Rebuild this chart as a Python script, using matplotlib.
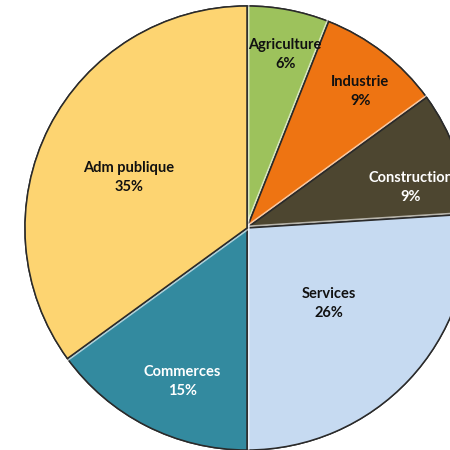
import numpy as np
import matplotlib.pyplot as plt
import matplotlib.patheffects as pe

secteurs = ['Agriculture', 'Industrie', 'Construction', 'Services', 'Commerces', 'Adm publique']
parts = [6, 9, 9, 26, 15, 35]
couleurs = ['#9DC25C', '#EE7412', '#4D4630', '#C6DAF1', '#338A9F', '#FDD471']
couleurs_texte = ['#111111', '#111111', 'white', '#111111', 'white', '#111111']
# label placement: fraction of the radius and angle shift from the slice middle
dist_label = [0.80, 0.80, 0.76, 0.50, 0.75, 0.58]
decal_angle = [-1.6, -1.9, -5.8, 0.4, 4.1, 3.8]
ecart = [0, 0, 0, 0.025, 0, 0]

fig = plt.figure(figsize=(4.5, 4.5), dpi=100)
ax = fig.add_axes([0, 0, 1, 1])

centre = (247, 222)
rayon = 222

wedges, _ = ax.pie(parts, colors=couleurs, startangle=90, counterclock=False,
                   radius=rayon, center=centre, explode=ecart, frame=True,
                   wedgeprops=dict(edgecolor='#2a2a2a', linewidth=1.1))
ax.set_xlim(0, 450)
ax.set_ylim(0, 450)
ax.set_aspect('equal')
ax.axis('off')

# light bevel along the edges of each slice
for w in wedges:
    w.set_path_effects([pe.Stroke(linewidth=3.6, foreground='#ffffff', alpha=0.6),
                        pe.Stroke(linewidth=1.1, foreground='#2a2a2a'),
                        pe.Normal()])

for w, nom, p, c, d, da in zip(wedges, secteurs, parts, couleurs_texte, dist_label, decal_angle):
    ang = np.deg2rad((w.theta1 + w.theta2) / 2 + da)
    x = centre[0] + d * rayon * np.cos(ang)
    y = centre[1] + d * rayon * np.sin(ang)
    ax.text(x, y, f'{nom}\n{p}%', ha='center', va='center', color=c,
            fontsize=10.5, fontweight='bold', family=['Lato', 'DejaVu Sans'],
            linespacing=1.45)

fig.savefig('out.png', dpi=100)
